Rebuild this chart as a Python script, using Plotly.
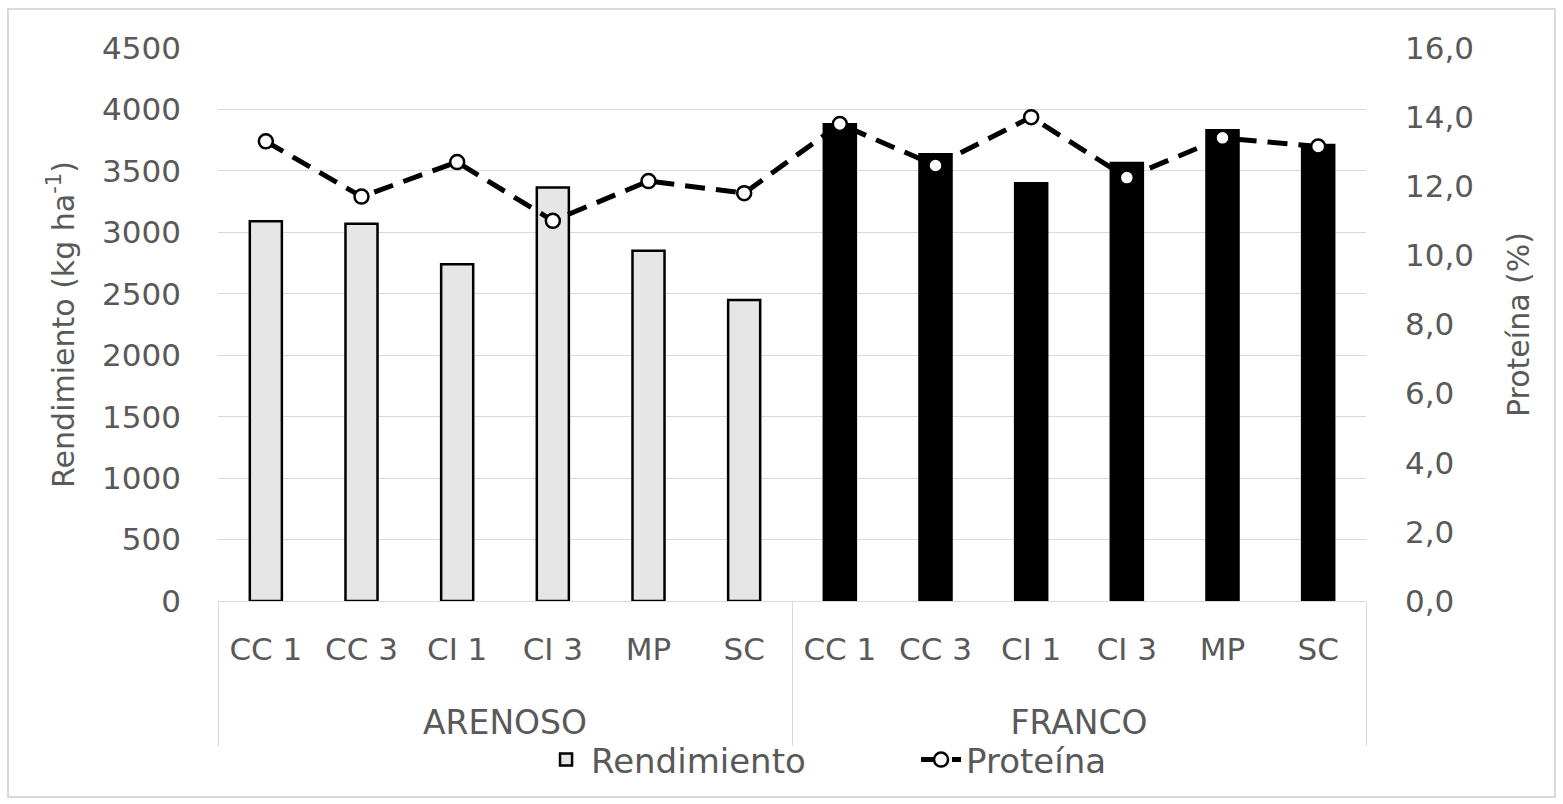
import plotly.graph_objects as go

# Datos: rendimiento (kg/ha) y proteína (%) por tipo de suelo y tratamiento
suelos = ["ARENOSO"] * 6 + ["FRANCO"] * 6
tratamientos = ["CC 1", "CC 3", "CI 1", "CI 3", "MP", "SC"] * 2
rendimiento = [3090, 3070, 2740, 3365, 2850, 2450,
               3880, 3635, 3400, 3565, 3830, 3710]
proteina = [13.3, 11.7, 12.7, 11.0, 12.15, 11.8,
            13.8, 12.6, 14.0, 12.25, 13.4, 13.15]
colores_barras = ["#e6e6e6"] * 6 + ["#000000"] * 6

gris_texto = "#595959"
gris_linea = "#d9d9d9"
fuente = "DejaVu Sans"

# claves únicas por suelo y tratamiento para el eje categórico
claves = [f"{s}|{t}" for s, t in zip(suelos, tratamientos)]
n = len(claves)

# centros y límites de cada grupo de suelo (en unidades de índice de categoría)
grupos = list(dict.fromkeys(suelos))
centros_grupo = []
limites_grupo = [-0.5]
for g in grupos:
    idx = [i for i, s in enumerate(suelos) if s == g]
    centros_grupo.append(sum(idx) / len(idx))
    limites_grupo.append(max(idx) + 0.5)

fig = go.Figure()

fig.add_trace(go.Bar(
    x=claves,
    y=rendimiento,
    name="Rendimiento",
    marker=dict(color=colores_barras, line=dict(color="#000000", width=2.5)),
    yaxis="y",
))

fig.add_trace(go.Scatter(
    x=claves,
    y=proteina,
    name="Proteína",
    mode="lines+markers",
    line=dict(color="#000000", width=5, dash="20px,11px"),
    marker=dict(symbol="circle", size=14, color="#ffffff",
                line=dict(color="#000000", width=2.5)),
    yaxis="y2",
))

# traza vacía que activa el eje auxiliar de grupos de suelo
fig.add_trace(go.Scatter(
    x=centros_grupo, y=[None] * len(centros_grupo),
    xaxis="x2", yaxis="y", mode="markers",
    showlegend=False, hoverinfo="skip",
))

fig.update_layout(
    width=1563,
    height=804,
    margin=dict(l=218, r=197, t=48, b=203),
    paper_bgcolor="#ffffff",
    plot_bgcolor="#ffffff",
    separators=",.",
    bargap=0.665,
    font=dict(family=fuente, color=gris_texto, size=31),
    showlegend=True,
    legend=dict(
        orientation="h",
        x=0.2814, xanchor="left",
        y=-0.2875, yanchor="middle",
        font=dict(size=34, color=gris_texto),
        bgcolor="rgba(0,0,0,0)",
        itemwidth=40,
        entrywidth=320,
    ),
    xaxis=dict(
        type="category",
        range=[-0.5, n - 0.5],
        tickvals=claves, ticktext=tratamientos,
        showline=True, linecolor=gris_linea, linewidth=1,
        showgrid=False, ticks="",
        ticklabelstandoff=21,
        tickfont=dict(size=31, color=gris_texto),
    ),
    # eje auxiliar con los nombres de suelo y los separadores de grupo
    xaxis2=dict(
        overlaying="x", anchor="y", side="bottom",
        range=[-0.5, n - 0.5],
        tickmode="array", tickvals=centros_grupo, ticktext=grupos,
        showline=False, showgrid=False, zeroline=False, ticks="",
        ticklabelstandoff=99,
        tickfont=dict(size=33, color=gris_texto),
        minor=dict(tickmode="array", tickvals=limites_grupo,
                   ticks="outside", ticklen=144, tickwidth=1,
                   tickcolor=gris_linea, showgrid=False),
    ),
    yaxis=dict(
        range=[0, 4500], dtick=500, tickformat="d",
        showgrid=True, gridcolor=gris_linea, gridwidth=1,
        zeroline=False, showline=False, ticks="",
        ticklabelstandoff=36,
        tickfont=dict(size=31, color=gris_texto),
        title=dict(text="Rendimiento (kg ha<sup>-1</sup>)",
                   font=dict(size=30, color=gris_texto), standoff=18),
    ),
    yaxis2=dict(
        overlaying="y", side="right",
        range=[0, 16], dtick=2, tickformat=".1f",
        showgrid=False, zeroline=False, showline=False, ticks="",
        ticklabelstandoff=38,
        tickfont=dict(size=31, color=gris_texto),
        title=dict(text="Proteína (%)",
                   font=dict(size=30, color=gris_texto), standoff=34),
    ),
    shapes=[dict(
        type="rect", xref="paper", yref="paper",
        x0=-0.1829, x1=1.1646, y0=-0.3544, y1=1.0705,
        line=dict(color=gris_linea, width=2), fillcolor="rgba(0,0,0,0)",
        layer="below",
    )],
)

fig.write_html("out.html")
